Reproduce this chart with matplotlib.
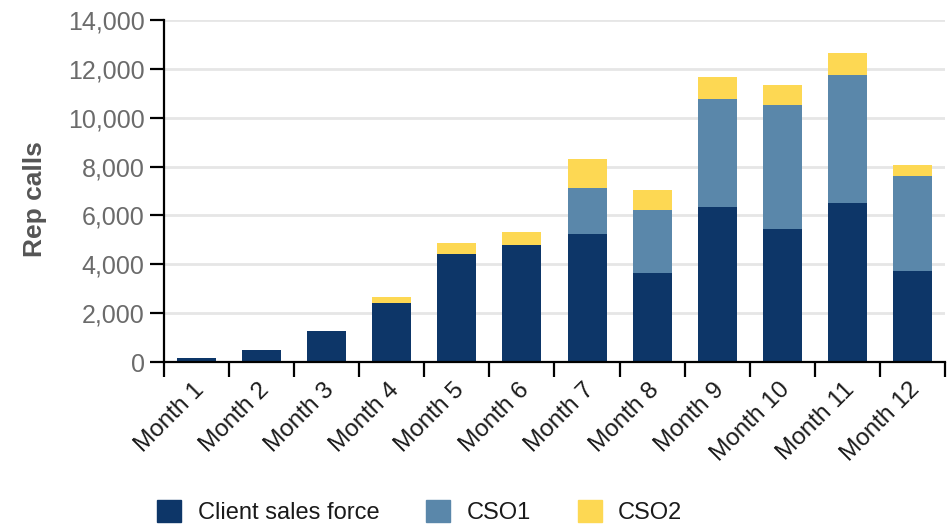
import numpy as np
import matplotlib.pyplot as plt
import matplotlib.transforms as mtransforms
from matplotlib.patches import Patch

# datos
meses = ['Month 1', 'Month 2', 'Month 3', 'Month 4', 'Month 5', 'Month 6',
         'Month 7', 'Month 8', 'Month 9', 'Month 10', 'Month 11', 'Month 12']
client_sales_force = [180, 510, 1280, 2430, 4440, 4770, 5220, 3660, 6360, 5460, 6490, 3740]
cso1 = [0, 0, 0, 0, 0, 0, 1920, 2580, 4390, 5040, 5240, 3860]
cso2 = [0, 0, 0, 250, 450, 570, 1150, 820, 900, 820, 910, 450]

c_dark = '#0d3668'
c_mid = '#5a87aa'
c_yel = '#fdd853'

plt.rcParams['font.family'] = ['Liberation Sans', 'DejaVu Sans']

fig = plt.figure(figsize=(9.53, 5.25), dpi=100)
ax = fig.add_axes([164 / 953, 1 - 362 / 525, 781 / 953, 342 / 525])

x = np.arange(len(meses))
w = 0.6
base2 = np.array(client_sales_force) + np.array(cso1)
ax.bar(x, client_sales_force, w, color=c_dark, zorder=3)
ax.bar(x, cso1, w, bottom=client_sales_force, color=c_mid, zorder=3)
ax.bar(x, cso2, w, bottom=base2, color=c_yel, zorder=3)

ax.set_xlim(-0.5, 11.5)
ax.set_ylim(0, 14000)
ax.set_yticks(np.arange(0, 14001, 2000))
ax.set_yticklabels(['{:,}'.format(v) for v in range(0, 14001, 2000)])
ax.yaxis.grid(True, color='#e6e6e6', linewidth=2, zorder=0)
ax.set_axisbelow(True)

# ticks de x en los bordes, etiquetas en el centro
ax.set_xticks(np.arange(-0.5, 12, 1))
ax.set_xticklabels([])
ax.set_xticks(x, minor=True)
ax.set_xticklabels(meses, minor=True, rotation=45, ha='right',
                   rotation_mode='anchor', fontsize=17.5, color='#1a1a1a')
ax.tick_params(axis='x', which='major', length=11, width=1.6, color='black')
ax.tick_params(axis='x', which='minor', length=0, pad=12)
ax.tick_params(axis='y', length=10, width=1.6, color='black', labelsize=18,
               labelcolor='#6b6b6b', pad=4)

# corro un poco las etiquetas a la izquierda
offset = mtransforms.ScaledTranslation(-4 / 100, 0, fig.dpi_scale_trans)
for lbl in ax.get_xticklabels(minor=True):
    lbl.set_transform(lbl.get_transform() + offset)

for s in ['top', 'right']:
    ax.spines[s].set_visible(False)
ax.spines['left'].set_linewidth(1.6)
ax.spines['bottom'].set_linewidth(1.6)
ax.spines['bottom'].set_zorder(4)

ax.set_ylabel('Rep calls', fontsize=19, fontweight='bold', color='#555555')
ax.yaxis.set_label_coords(-0.150, 0.477)

handles = [Patch(color=c_dark, label='Client sales force'),
           Patch(color=c_mid, label='CSO1'),
           Patch(color=c_yel, label='CSO2')]
fig.legend(handles=handles, loc='center left', bbox_to_anchor=(148 / 953, 1 - 512 / 525),
           ncol=3, frameon=False, fontsize=17, handlelength=1.0, handleheight=1.1,
           handletextpad=0.7, columnspacing=2.0, labelcolor='#1a1a1a',
           borderaxespad=0)

fig.savefig('out.png', dpi=100)
